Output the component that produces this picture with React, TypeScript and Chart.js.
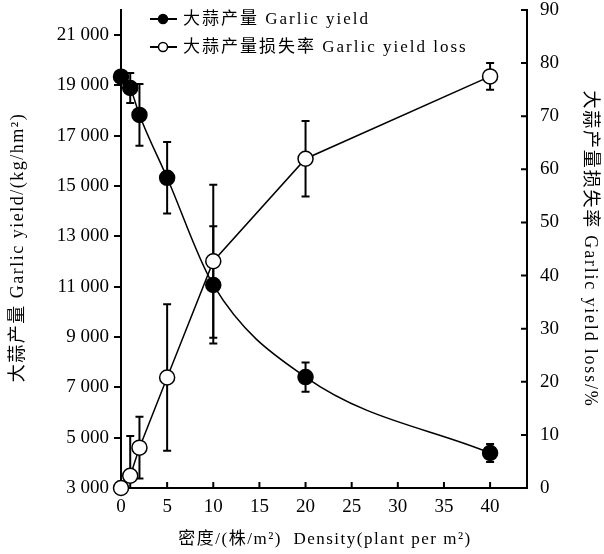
import React, { useEffect, useRef } from 'react';
import { Chart, registerables } from 'chart.js';

Chart.register(...registerables);

// ---- data ----
const density = [0, 1, 2, 5, 10, 20, 40];
const yieldValues = [19350, 18900, 17830, 15330, 11070, 7410, 4390];
const yieldErrors = [0, 600, 1230, 1420, 2330, 580, 360];
const lossValues = [0, 2.3, 7.6, 20.8, 42.7, 62.0, 77.5];
const lossErrors = [0, 7.5, 5.8, 13.8, 14.4, 7.1, 2.5];

const densityTicks = [0, 5, 10, 15, 20, 25, 30, 35, 40];
const yieldTicks = [3000, 5000, 7000, 9000, 11000, 13000, 15000, 17000, 19000, 21000];
const lossTicks = [0, 10, 20, 30, 40, 50, 60, 70, 80, 90];

const seriesLabels = ['大蒜产量 Garlic yield', '大蒜产量损失率 Garlic yield loss'];
const xTitle = '密度/(株/m²)  Density(plant per m²)';
const yLeftTitle = '大蒜产量 Garlic yield/(kg/hm²)';
const yRightTitle = '大蒜产量损失率 Garlic yield loss/%';

const SERIF = "'Liberation Serif', 'Noto Sans CJK SC', serif";
const TICK_FONT = { family: SERIF, size: 19 };

function fmtThousands(v: number): string {
  if (v >= 1000) {
    const th = Math.floor(v / 1000);
    const rest = String(v % 1000).padStart(3, '0');
    return th + ' ' + rest;
  }
  return String(v);
}

const errorBarPlugin = {
  id: 'errorBars',
  beforeDatasetsDraw(chart: any) {
    const ctx = chart.ctx;
    const xs = chart.scales.x;
    const sets = [
      { scale: chart.scales.y, vals: yieldValues, errs: yieldErrors },
      { scale: chart.scales.y1, vals: lossValues, errs: lossErrors },
    ];
    ctx.save();
    ctx.strokeStyle = '#000';
    ctx.lineWidth = 2;
    sets.forEach(({ scale, vals, errs }) => {
      vals.forEach((v, i) => {
        const e = errs[i];
        if (!e) return;
        const px = xs.getPixelForValue(density[i]);
        const hiV = v + e;
        const loV = Math.max(v - e, scale.min);
        const pTop = scale.getPixelForValue(hiV);
        const pBot = scale.getPixelForValue(loV);
        ctx.beginPath();
        ctx.moveTo(px, pTop);
        ctx.lineTo(px, pBot);
        ctx.moveTo(px - 4, pTop);
        ctx.lineTo(px + 4, pTop);
        if (v - e >= scale.min) {
          ctx.moveTo(px - 4, pBot);
          ctx.lineTo(px + 4, pBot);
        }
        ctx.stroke();
      });
    });
    ctx.restore();
  },
};

const decorPlugin = {
  id: 'decor',
  beforeDatasetsDraw(chart: any) {
    // inward tick marks on the x axis and the right axis
    const ctx = chart.ctx;
    const { right, bottom } = chart.chartArea;
    const xs = chart.scales.x;
    const yr = chart.scales.y1;
    ctx.save();
    ctx.strokeStyle = '#000';
    ctx.lineWidth = 2;
    ctx.beginPath();
    densityTicks.forEach((v) => {
      const px = xs.getPixelForValue(v);
      ctx.moveTo(px, bottom);
      ctx.lineTo(px, bottom - 6);
    });
    lossTicks.forEach((v) => {
      const py = yr.getPixelForValue(v);
      ctx.moveTo(right, py);
      ctx.lineTo(right - 6, py);
    });
    ctx.stroke();
    ctx.restore();
  },
  afterDraw(chart: any) {
    const ctx = chart.ctx;
    const { left, right, top, bottom } = chart.chartArea;
    ctx.save();
    ctx.fillStyle = '#000';
    ctx.strokeStyle = '#000';
    // legend
    ctx.font = `17px ${SERIF}`;
    (ctx as any).letterSpacing = '2px';
    ctx.textAlign = 'left';
    ctx.textBaseline = 'middle';
    seriesLabels.forEach((lab, i) => {
      const y = 19 + i * 28;
      ctx.lineWidth = 2;
      ctx.beginPath();
      ctx.moveTo(150, y);
      ctx.lineTo(177, y);
      ctx.stroke();
      ctx.beginPath();
      ctx.arc(163, y, 4.5, 0, Math.PI * 2);
      ctx.fillStyle = i === 0 ? '#000' : '#fff';
      ctx.fill();
      ctx.lineWidth = 1.5;
      ctx.stroke();
      ctx.fillStyle = '#000';
      ctx.fillText(lab, 183, y + 1);
    });
    // axis titles
    ctx.textAlign = 'center';
    ctx.font = `17px ${SERIF}`;
    (ctx as any).letterSpacing = '1.5px';
    ctx.fillText(xTitle, (left + right) / 2 + 1, bottom + 52);
    ctx.font = `18px ${SERIF}`;
    ctx.save();
    ctx.translate(18, (top + bottom) / 2 - 1.5);
    ctx.rotate(-Math.PI / 2);
    ctx.fillText(yLeftTitle, 0, 0);
    ctx.restore();
    (ctx as any).letterSpacing = '1.8px';
    ctx.save();
    ctx.translate(590, (top + bottom) / 2);
    ctx.rotate(Math.PI / 2);
    ctx.fillText(yRightTitle, 0, 0);
    ctx.restore();
    ctx.restore();
  },
};

export default function App() {
  const ref = useRef<HTMLCanvasElement | null>(null);
  useEffect(() => {
    if (!ref.current) return;
    const chart = new Chart(ref.current, {
      type: 'line',
      data: {
        datasets: [
          {
            label: seriesLabels[0],
            data: density.map((d, i) => ({ x: d, y: yieldValues[i] })),
            yAxisID: 'y',
            borderColor: '#000',
            borderWidth: 1.5,
            pointRadius: 7.5,
            pointBackgroundColor: '#000',
            pointBorderColor: '#000',
            pointBorderWidth: 1.5,
            cubicInterpolationMode: 'monotone',
            clip: false as any,
          },
          {
            label: seriesLabels[1],
            data: density.map((d, i) => ({ x: d, y: lossValues[i] })),
            yAxisID: 'y1',
            borderColor: '#000',
            borderWidth: 1.5,
            pointRadius: 7.5,
            pointBackgroundColor: '#fff',
            pointBorderColor: '#000',
            pointBorderWidth: 1.5,
            tension: 0,
            clip: false as any,
          },
        ],
      },
      options: {
        animation: false,
        responsive: false,
        devicePixelRatio: 1,
        layout: { padding: { top: 10, left: 0, right: 0, bottom: 0 } },
        plugins: { legend: { display: false }, tooltip: { enabled: false } },
        scales: {
          x: {
            type: 'linear',
            min: 0,
            max: 44,
            afterBuildTicks: (s: any) => {
              s.ticks = densityTicks.map((v) => ({ value: v }));
            },
            afterFit: (s: any) => {
              s.height = 66;
              s.paddingLeft = 0;
              s.paddingRight = 0;
            },
            grid: { display: false, drawTicks: false },
            border: { display: true, color: '#000', width: 2 },
            ticks: { font: TICK_FONT, color: '#000', padding: 8, maxRotation: 0, autoSkip: false },
          },
          y: {
            type: 'linear',
            position: 'left',
            min: 3000,
            max: 22000,
            afterBuildTicks: (s: any) => {
              s.ticks = yieldTicks.map((v) => ({ value: v }));
            },
            afterFit: (s: any) => {
              s.width = 121;
              s.paddingTop = 0;
              s.paddingBottom = 0;
            },
            grid: { display: true, drawOnChartArea: false, drawTicks: true, tickLength: 7, color: '#000', lineWidth: 2 },
            border: { display: true, color: '#000', width: 2 },
            ticks: {
              font: TICK_FONT,
              color: '#000',
              padding: 5,
              autoSkip: false,
              callback: (v: any) => fmtThousands(Number(v)),
            },
          },
          y1: {
            type: 'linear',
            position: 'right',
            min: 0,
            max: 90,
            afterBuildTicks: (s: any) => {
              s.ticks = lossTicks.map((v) => ({ value: v }));
            },
            afterFit: (s: any) => {
              s.width = 77;
              s.paddingTop = 0;
              s.paddingBottom = 0;
            },
            grid: { display: false, drawTicks: false },
            border: { display: true, color: '#000', width: 2 },
            ticks: { font: TICK_FONT, color: '#000', padding: 13, autoSkip: false },
          },
        },
      },
      plugins: [errorBarPlugin, decorPlugin],
    });
    return () => chart.destroy();
  }, []);
  return (
    <div style={{ position: 'absolute', left: 0, top: 0, width: 604, height: 554, background: '#fff' }}>
      <canvas ref={ref} width={604} height={554} style={{ width: 604, height: 554, display: 'block' }} />
    </div>
  );
}
